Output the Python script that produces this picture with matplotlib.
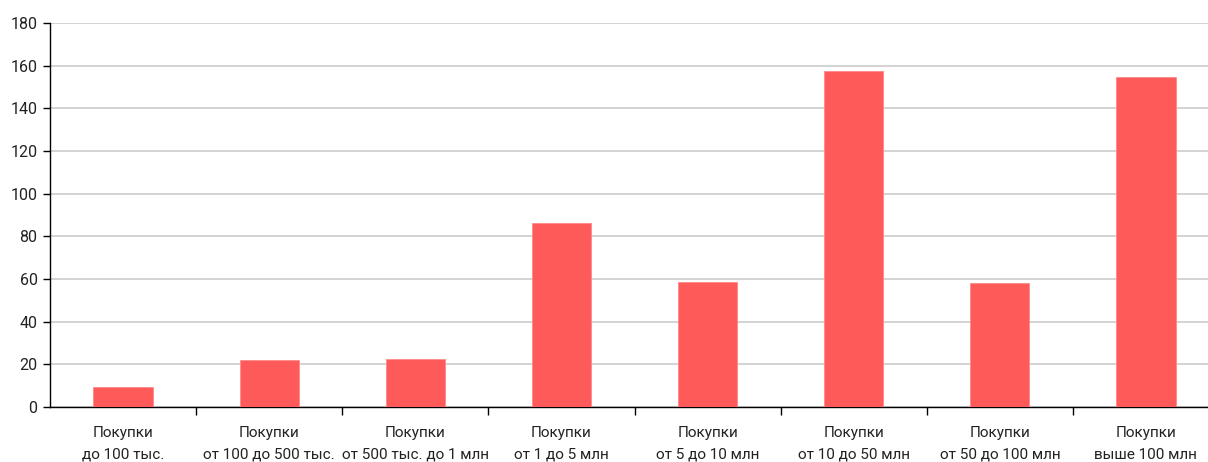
import matplotlib.pyplot as plt
import numpy as np

categories = [
    'Покупки\nдо 100 тыс.',
    'Покупки\nот 100 до 500 тыс.',
    'Покупки\nот 500 тыс. до 1 млн',
    'Покупки\nот 1 до 5 млн',
    'Покупки\nот 5 до 10 млн',
    'Покупки\nот 10 до 50 млн',
    'Покупки\nот 50 до 100 млн',
    'Покупки\nвыше 100 млн',
]
values = [9.4, 21.9, 22.7, 86.3, 58.4, 157.7, 58.3, 154.8]
yticks = [0, 20, 40, 60, 80, 100, 120, 140, 160, 180]

plt.rcParams['font.family'] = ['Roboto', 'DejaVu Sans']

fig = plt.figure(figsize=(12.08, 4.62), dpi=100)
# axes run a little past the right edge of the figure
ax = fig.add_axes([50 / 1208, 55 / 462, 1169 / 1208, 384 / 462])

x = np.arange(len(categories)) + 0.5
ax.bar(x, values, width=0.405, color='#ff5a5a', edgecolor='#ff8a8a',
       linewidth=0.6, zorder=3)

ax.set_xlim(0, len(categories))
ax.set_ylim(0, 180)
ax.set_yticks(yticks)
ax.yaxis.grid(True, color='#cccccc', linewidth=1.2, zorder=0)

# category boundaries as major ticks, labels on minor ticks
ax.set_xticks(np.arange(1, len(categories)))
ax.set_xticklabels([])
ax.set_xticks(x, minor=True)
ax.set_xticklabels(categories, minor=True, fontsize=11, linespacing=1.65,
                   color='#222222')
ax.tick_params(axis='x', which='minor', length=0, pad=14)
ax.tick_params(axis='x', which='major', length=6, width=1, direction='out')
ax.tick_params(axis='y', length=5, width=1, labelsize=11.5, pad=4,
               labelcolor='#222222')

for side in ['top', 'right']:
    ax.spines[side].set_visible(False)
ax.spines['left'].set_linewidth(1)
ax.spines['bottom'].set_linewidth(1)

fig.savefig('out.png', dpi=100)
